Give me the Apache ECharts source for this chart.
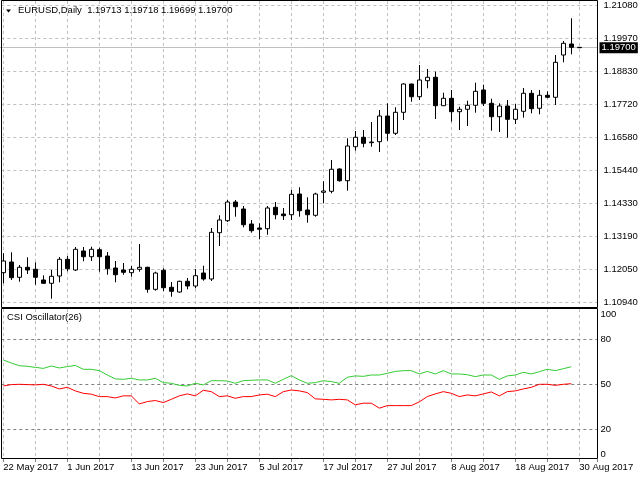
<!DOCTYPE html>
<html><head><meta charset="utf-8">
<script src="https://cdn.jsdelivr.net/npm/echarts/dist/echarts.min.js"></script>
<style>html,body{margin:0;padding:0;background:#fff}#c{width:640px;height:480px}</style>
</head><body><div id="c"></div>
<script>
const dates = [
 '22 May 2017','23 May 2017','24 May 2017','25 May 2017','26 May 2017',
 '29 May 2017','30 May 2017','31 May 2017','1 Jun 2017','2 Jun 2017',
 '5 Jun 2017','6 Jun 2017','7 Jun 2017','8 Jun 2017','9 Jun 2017',
 '12 Jun 2017','13 Jun 2017','14 Jun 2017','15 Jun 2017','16 Jun 2017',
 '19 Jun 2017','20 Jun 2017','21 Jun 2017','22 Jun 2017','23 Jun 2017',
 '26 Jun 2017','27 Jun 2017','28 Jun 2017','29 Jun 2017','30 Jun 2017',
 '3 Jul 2017','4 Jul 2017','5 Jul 2017','6 Jul 2017','7 Jul 2017',
 '10 Jul 2017','11 Jul 2017','12 Jul 2017','13 Jul 2017','14 Jul 2017',
 '17 Jul 2017','18 Jul 2017','19 Jul 2017','20 Jul 2017','21 Jul 2017',
 '24 Jul 2017','25 Jul 2017','26 Jul 2017','27 Jul 2017','28 Jul 2017',
 '31 Jul 2017','1 Aug 2017','2 Aug 2017','3 Aug 2017','4 Aug 2017',
 '7 Aug 2017','8 Aug 2017','9 Aug 2017','10 Aug 2017','11 Aug 2017',
 '14 Aug 2017','15 Aug 2017','16 Aug 2017','17 Aug 2017','18 Aug 2017',
 '21 Aug 2017','22 Aug 2017','23 Aug 2017','24 Aug 2017','25 Aug 2017',
 '28 Aug 2017','29 Aug 2017','30 Aug 2017'
];
const opens = [
 1.12028,1.12392,1.11871,1.12212,1.12144,1.11779,1.11666,1.11915,1.12484,1.12120,
 1.12768,1.12573,1.12812,1.12597,1.12188,1.12120,1.12028,1.12144,1.12212,1.11461,
 1.12109,1.11530,1.11369,1.11734,1.11574,1.12017,1.11813,1.13391,1.13801,1.14438,
 1.14200,1.13688,1.13552,1.13528,1.14258,1.14029,1.14005,1.14711,1.14166,1.13985,
 1.14769,1.14803,1.15564,1.15165,1.16324,1.16645,1.16461,1.16495,1.17371,1.16781,
 1.17497,1.18462,1.18029,1.18575,1.18691,1.17722,1.17975,1.17518,1.17600,1.17736,
 1.18258,1.17804,1.17347,1.17712,1.17258,1.17531,1.18145,1.17634,1.18077,1.18009,
 1.19451,1.19826,1.19713
];
const highs = [
 1.12689,1.12723,1.12290,1.12553,1.12382,1.11939,1.12120,1.12563,1.12597,1.12904,
 1.12904,1.12914,1.12880,1.12733,1.12427,1.12358,1.12256,1.13006,1.12232,1.12062,
 1.12178,1.11710,1.11755,1.11847,1.12154,1.12266,1.13552,1.13985,1.14507,1.14507,
 1.14302,1.13825,1.13712,1.14302,1.14438,1.14234,1.14848,1.14940,1.14599,1.14756,
 1.15144,1.15871,1.15588,1.16611,1.16860,1.16894,1.17166,1.17576,1.17804,1.17668,
 1.18486,1.18470,1.19110,1.18974,1.18882,1.18166,1.18258,1.17688,1.17893,1.18507,
 1.18438,1.17961,1.17804,1.17917,1.17780,1.18326,1.18258,1.18258,1.18213,1.19451,
 1.19928,1.20703,1.19718
];
const lows = [
 1.11666,1.11779,1.11721,1.11983,1.11618,1.11650,1.11141,1.11700,1.12075,1.12086,
 1.12416,1.12427,1.12062,1.11959,1.11700,1.11959,1.11891,1.12062,1.11345,1.11414,
 1.11403,1.11209,1.11345,1.11461,1.11496,1.11755,1.11745,1.12938,1.13756,1.13937,
 1.13576,1.13391,1.13166,1.13323,1.13849,1.13825,1.13825,1.13937,1.13733,1.13937,
 1.14394,1.14735,1.15131,1.14824,1.16188,1.16304,1.16324,1.16144,1.16529,1.16723,
 1.17235,1.17859,1.17917,1.18316,1.17269,1.17710,1.17177,1.16894,1.17030,1.17484,
 1.17712,1.16870,1.16825,1.16631,1.17098,1.17313,1.17463,1.17429,1.17975,1.17746,
 1.19202,1.19475,1.19699
];
const closes = [
 1.12427,1.11857,1.12212,1.12120,1.11871,1.11666,1.11905,1.12484,1.12164,1.12825,
 1.12573,1.12825,1.12573,1.12164,1.11959,1.12041,1.12144,1.12212,1.11461,1.12017,
 1.11516,1.11393,1.11734,1.11574,1.11925,1.11813,1.13405,1.13825,1.14438,1.14278,
 1.13664,1.13460,1.13508,1.14234,1.14005,1.13971,1.14701,1.14142,1.14005,1.14711,
 1.14813,1.15554,1.15165,1.16348,1.16645,1.16440,1.16484,1.17371,1.16781,1.17497,
 1.18462,1.18029,1.18599,1.18691,1.17722,1.17975,1.17518,1.17600,1.17736,1.18213,
 1.17804,1.17347,1.17712,1.17258,1.17600,1.18145,1.17620,1.18077,1.18009,1.19202,
 1.19850,1.19713,1.19700
];
const csiGreen = [
 66.0,64.0,62.2,61.8,61.1,60.4,62.0,60.7,61.6,62.4,
 59.8,59.8,58.9,56.0,53.4,53.1,53.8,52.7,52.7,53.8,
 50.9,50.5,49.1,48.7,50.5,49.4,52.2,52.2,52.0,50.5,
 52.2,52.5,52.7,52.7,50.5,53.1,55.6,52.7,50.5,50.9,
 52.2,51.6,50.5,54.5,55.4,55.1,56.0,56.0,57.1,58.4,
 58.9,58.9,56.7,58.4,56.7,58.9,56.7,56.7,56.2,54.9,
 56.0,56.0,53.1,55.4,56.0,57.8,56.7,58.2,59.8,58.9,
 60.2,61.5
];
const csiRed = [
 48.7,49.6,49.8,49.6,49.4,49.8,48.7,46.7,47.8,45.4,
 43.8,43.2,41.6,41.6,40.7,42.1,42.1,36.7,38.3,39.0,
 37.6,39.8,42.1,43.4,42.1,45.8,44.9,41.6,42.1,40.5,
 41.6,41.6,42.7,43.2,41.6,44.9,46.0,45.4,44.3,40.1,
 39.8,39.4,39.8,39.4,36.1,37.2,37.2,33.9,35.6,35.6,
 35.6,35.6,38.1,41.6,43.4,44.9,43.8,41.6,42.7,42.1,
 43.4,44.7,42.1,44.9,45.4,46.7,47.8,49.8,49.8,49.1,
 49.8,50.2
];
const priceTicks = ['1.10940','1.12050','1.13190','1.14330','1.15440','1.16580','1.17720','1.18830','1.19970','1.21080'];
const oscLevels = [20, 50, 80];
const oscTicks = [0, 20, 50, 80, 100];
const symbolTitle = 'EURUSD,Daily  1.19713 1.19718 1.19699 1.19700';
const oscTitle = 'CSI Oscillator(26)';

const FONT = 'Liberation Sans';
const chart = echarts.init(document.getElementById('c'), null, {renderer: 'canvas'});

const candleData = dates.map((d, i) => [i, opens[i], closes[i], lows[i], highs[i]]);
const greenData = csiGreen.map((v, i) => [i, v]);
const redData = csiRed.map((v, i) => [i, v]);
const lastClose = closes[closes.length - 1];

const GL = -28.7, GR = 640 - 597.5;
const XMIN = -4, XMAX = 74.275;
const dashGrid = {show: true, lineStyle: {color: '#c0c0c0', type: [3, 3], width: 1}};

function dateFmt(v) {
  const i = Math.round(v);
  if (Math.abs(v - i) > 1e-6 || i < 0 || i >= dates.length || i % 8 !== 0) return '';
  return dates[i];
}

chart.setOption({
  animation: false,
  backgroundColor: '#ffffff',
  textStyle: {fontFamily: FONT},
  title: [
    {text: symbolTitle, left: 18, top: 5, padding: 0,
     textStyle: {fontFamily: FONT, fontSize: 9.5, fontWeight: 'normal', color: '#000'}},
    {text: oscTitle, left: 7, top: 312.5, padding: 0,
     textStyle: {fontFamily: FONT, fontSize: 9.5, fontWeight: 'normal', color: '#000'}}
  ],
  grid: [
    {left: GL, right: GR, top: 1, height: 306, outerBoundsMode: 'none', containLabel: false},
    {left: GL, right: GR, top: 5.3, height: 297.4, outerBoundsMode: 'none', containLabel: false},
    {left: GL, right: GR, top: 309, height: 150, outerBoundsMode: 'none', containLabel: false}
  ],
  xAxis: [
    {type: 'value', gridIndex: 0, min: XMIN, max: XMAX, interval: 4,
     axisLine: {show: false}, axisTick: {show: false}, axisLabel: {show: false},
     splitLine: dashGrid},
    {type: 'value', gridIndex: 1, min: 0, max: 1, show: false},
    {type: 'value', gridIndex: 2, min: XMIN, max: XMAX, interval: 4,
     axisLine: {show: false},
     axisTick: {show: true, length: 3, lineStyle: {color: '#808080'}},
     axisLabel: {show: true, formatter: dateFmt, align: 'left', margin: 3,
       fontFamily: FONT, fontSize: 9.5, color: '#000', hideOverlap: false},
     splitLine: dashGrid}
  ],
  yAxis: [
    {type: 'value', gridIndex: 0, min: 1.108579, max: 1.212925, show: false, scale: true},
    {type: 'value', gridIndex: 1, min: 0, max: 9, interval: 1, position: 'right',
     axisLine: {show: false},
     axisTick: {show: true, length: 3, lineStyle: {color: '#000'}},
     axisLabel: {show: true, margin: 6, fontFamily: FONT, fontSize: 9.5, color: '#000',
       showMinLabel: true, showMaxLabel: true,
       formatter: v => priceTicks[Math.round(v)] || ''},
     splitLine: dashGrid},
    {type: 'value', gridIndex: 2, min: 0, max: 100, interval: 10, position: 'right',
     axisLine: {show: false}, axisTick: {show: false},
     axisLabel: {show: true, margin: 3, fontFamily: FONT, fontSize: 9.5, color: '#000',
       showMinLabel: true, showMaxLabel: true,
       verticalAlignMinLabel: 'bottom', verticalAlignMaxLabel: 'top',
       formatter: v => oscTicks.indexOf(Math.round(v)) >= 0 ? String(Math.round(v)) : ''},
     splitLine: {show: false}}
  ],
  series: [
    {type: 'candlestick', xAxisIndex: 0, yAxisIndex: 0, data: candleData,
     encode: {x: 0, y: [1, 2, 3, 4]},
     barWidth: 4,
     itemStyle: {color: '#ffffff', color0: '#000000', borderColor: '#000000', borderColor0: '#000000', borderWidth: 1},
     markLine: {silent: true, symbol: 'none', z: 1, precision: 5,
       lineStyle: {color: '#c0c0c0', type: 'solid', width: 1},
       label: {show: true, position: 'end', distance: 2, formatter: () => lastClose.toFixed(5),
         backgroundColor: '#000', color: '#fff', padding: [1, 2, 0, 2], fontFamily: FONT, fontSize: 9.5},
       data: [{yAxis: lastClose}]}
    },
    {type: 'line', xAxisIndex: 2, yAxisIndex: 2, data: greenData, symbol: 'none',
     lineStyle: {color: '#33cc33', width: 1}, z: 3,
     markLine: {silent: true, symbol: 'none', z: 1,
       lineStyle: {color: '#808080', type: [3, 3], width: 1},
       label: {show: false},
       data: oscLevels.map(v => ({yAxis: v}))}
    },
    {type: 'line', xAxisIndex: 2, yAxisIndex: 2, data: redData, symbol: 'none',
     lineStyle: {color: '#ff0000', width: 1}, z: 3}
  ],
  graphic: [
    {type: 'rect', silent: true, z: 100, shape: {x: 1.5, y: 0.5, width: 596, height: 307},
     style: {fill: null, stroke: '#000', lineWidth: 1}},
    {type: 'rect', silent: true, z: 100, shape: {x: 1.5, y: 308.5, width: 596, height: 150},
     style: {fill: null, stroke: '#000', lineWidth: 1}},
    {type: 'polygon', silent: true, z: 100, shape: {points: [[6, 9.5], [11, 9.5], [8.5, 12.5]]},
     style: {fill: '#000'}}
  ]
});
</script></body></html>
